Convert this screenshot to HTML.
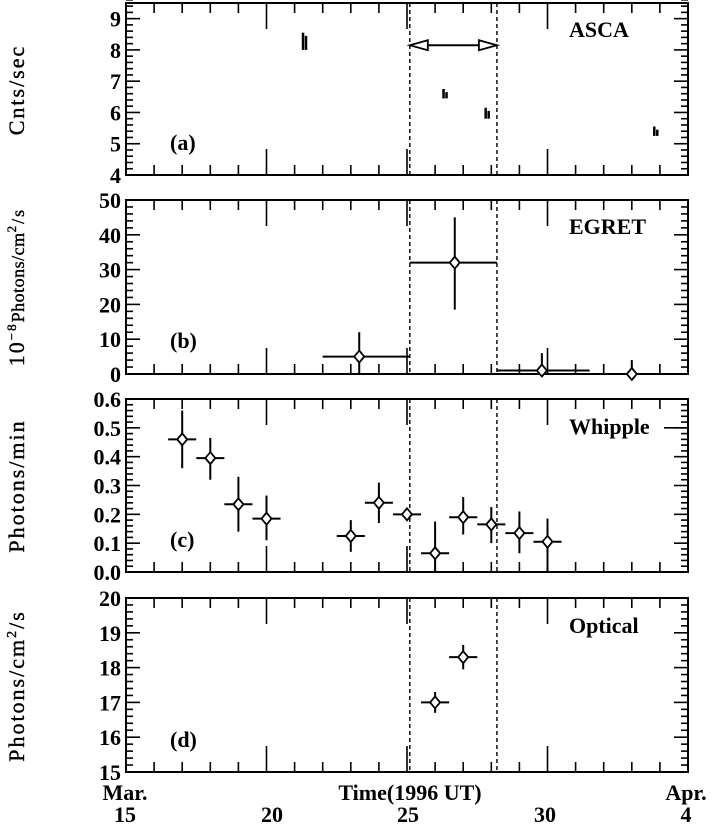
<!DOCTYPE html>
<html><head><meta charset="utf-8"><style>
body{margin:0;background:#fff}
svg text{font-family:"Liberation Serif",serif;font-size:22px;fill:#000;font-weight:bold}
svg text.yl{font-weight:normal;letter-spacing:2px;font-size:22px;stroke:#000;stroke-width:0.4}
</style></head><body>
<svg id="s" width="721" height="827" viewBox="0 0 721 827" xmlns="http://www.w3.org/2000/svg"></svg>
<script>
const S=document.getElementById('s');const NS='http://www.w3.org/2000/svg';
function el(t,a,txt){const e=document.createElementNS(NS,t);for(const k in a)e.setAttribute(k,a[k]);if(txt!==undefined)e.textContent=txt;S.appendChild(e);return e;}
function line(x1,y1,x2,y2,w,d){const a={x1,y1,x2,y2,stroke:'#000','stroke-width':w||1.6};if(d)a['stroke-dasharray']=d;el('line',a);}
const L=126,R=688;const X=d=>L+(d-15)*(R-L)/20;
const panels=[
 {t:3,b:175,min:4,max:9.5,maj:1,min_:0.2,labs:[4,5,6,7,8,9],fmt:v=>v},
 {t:200,b:374,min:0,max:50,maj:10,min_:2,labs:[0,10,20,30,40,50],fmt:v=>v},
 {t:399,b:572,min:0,max:0.6,maj:0.1,min_:0.02,labs:[0,.1,.2,.3,.4,.5,.6],fmt:v=>v.toFixed(1)},
 {t:598,b:772,min:15,max:20,maj:1,min_:0.2,labs:[15,16,17,18,19,20],fmt:v=>v}];
panels.forEach((p,i)=>{
 p.Y=v=>p.b-(v-p.min)*(p.b-p.t)/(p.max-p.min);
 el('rect',{x:L,y:p.t,width:R-L,height:p.b-p.t,fill:'none',stroke:'#000','stroke-width':2});
 for(let d=15;d<=35;d++){const big=d%5==0;const h=big?26:10;
  line(X(d),p.b,X(d),p.b-h);line(X(d),p.t,X(d),p.t+h);}
 const n=Math.round((p.max-p.min)/p.min_);
 for(let k=0;k<=n;k++){const v=p.min+k*p.min_;const big=Math.abs(v/p.maj-Math.round(v/p.maj))<1e-6;const h=big?14:7;const y=p.Y(v);
  line(L,y,L+h,y);line(R,y,R-h,y);}
 p.labs.forEach(v=>el('text',{x:L-5,y:p.Y(v)+8,'text-anchor':'end'},p.fmt(v)));
 line(X(25.1),p.t,X(25.1),p.b,1.4,'4,3');line(X(28.2),p.t,X(28.2),p.b,1.4,'4,3');
});
function diam(x,y){el('path',{d:`M${x},${y-6}L${x+5},${y}L${x},${y+6}L${x-5},${y}Z`,fill:'#fff',stroke:'#000','stroke-width':1.8});}
function pt(p,d,v,xl,xh,yl,yh){const x=X(d),y=p.Y(v);line(X(xl),y,X(xh),y,2);line(x,p.Y(yl),x,p.Y(yh),2);diam(x,y);}
const a=panels[0];
[[21.3,8.55,8.0],[26.3,6.75,6.45],[27.8,6.15,5.8],[33.8,5.55,5.25]].forEach(q=>{line(X(q[0]),a.Y(q[1]),X(q[0]),a.Y(q[2]),2.5);line(X(q[0])+3,a.Y(q[1]-0.1),X(q[0])+3,a.Y(q[2]),2.5);});
const ay=a.Y(8.15);line(X(25.1)+18,ay,X(28.2)-18,ay,2);
el('path',{d:`M${X(25.1)},${ay}L${X(25.1)+18},${ay-5}L${X(25.1)+18},${ay+5}Z M${X(28.2)},${ay}L${X(28.2)-18},${ay-5}L${X(28.2)-18},${ay+5}Z`,fill:'#fff',stroke:'#000','stroke-width':1.8});
el('text',{x:569,y:37},'ASCA');el('text',{x:170,y:150},'(a)');
const b=panels[1];
pt(b,23.3,5,22,25.1,0,12);pt(b,26.7,32,25.1,28.2,18.5,45);pt(b,29.8,1,28.2,31.5,0,6);pt(b,33,0,33,33,0,4);
el('text',{x:569,y:234},'EGRET');el('text',{x:170,y:348},'(b)');
const c=panels[2];
[[17,.46,.36,.56],[18,.395,.32,.465],[19,.235,.14,.33],[20,.185,.11,.265],[23,.125,.07,.18],[24,.24,.17,.31],[25,.2,.2,.2],[26,.065,0,.175],[27,.19,.13,.26],[28,.165,.1,.225],[29,.135,.065,.21],[30,.105,0,.185]].forEach(q=>pt(c,q[0],q[1],q[0]-.5,q[0]+.5,q[2],q[3]));
el('text',{x:569,y:434},'Whipple');line(664,c.Y(.5),R,c.Y(.5));el('text',{x:170,y:547},'(c)');
const d=panels[3];
pt(d,26,17,25.5,26.5,16.7,17.3);pt(d,27,18.3,26.5,27.5,17.95,18.65);
el('text',{x:569,y:633},'Optical');el('text',{x:170,y:747},'(d)');
[[125,'Mar.',800],[125,'15',822],[272,'20',822],[408,'25',822],[545,'30',822],[686,'Apr.',800],[686,'4',822],[410,'Time(1996 UT)',800]].forEach(q=>el('text',{x:q[0],y:q[2],'text-anchor':'middle'},q[1]));
function yl(x,y,t){const e=el('text',{x:0,y:0,'text-anchor':'middle','class':'yl',transform:`translate(${x},${y}) rotate(-90)`});e.innerHTML=t;}
yl(24,90,'Cnts/sec');
yl(24,287,'10<tspan dy="-8" font-size="13">−8</tspan><tspan dy="8" font-size="18" letter-spacing="0.5">Photons/cm</tspan><tspan dy="-8" font-size="13">2</tspan><tspan dy="8" font-size="18">/s</tspan>');
yl(24,486,'Photons/min');
yl(24,686,'Photons/cm<tspan dy="-8" font-size="14">2</tspan><tspan dy="8">/s</tspan>');
</script>
</body></html>
